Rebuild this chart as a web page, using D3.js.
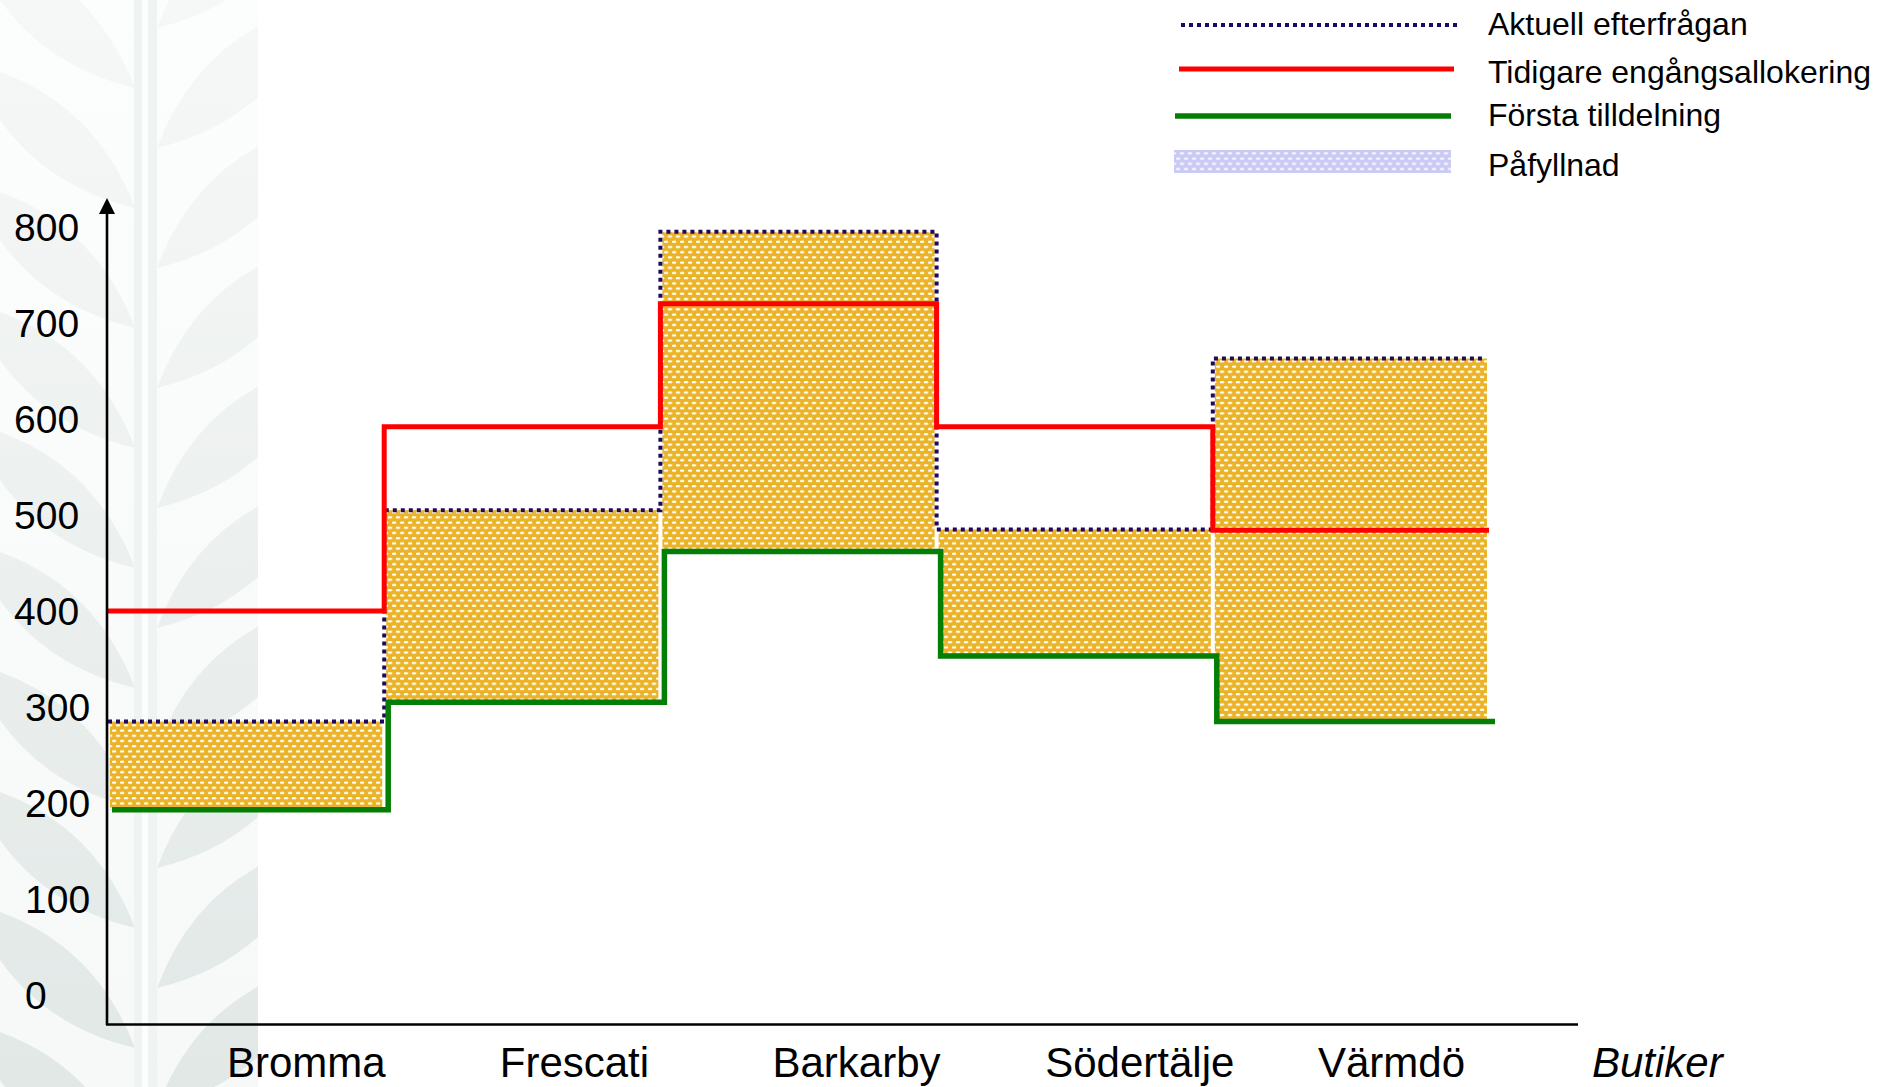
<!DOCTYPE html>
<html>
<head>
<meta charset="utf-8">
<script src="https://cdn.jsdelivr.net/npm/d3@7"></script>
<style>
  html, body { margin: 0; padding: 0; background: #fff; }
  svg { display: block; font-family: "Liberation Sans", Arial, sans-serif; }
</style>
</head>
<body>
<svg id="chart" width="1877" height="1087"></svg>
<script>
// Stores and values per store
const categories = ["Bromma", "Frescati", "Barkarby", "Södertälje", "Värmdö"];
const currentDemand = [285, 505, 795, 485, 663];      // Aktuell efterfrågan
const earlierAllocation = [400, 592, 720, 592, 484];  // Tidigare engångsallokering
const firstAllocation = [193, 305, 462, 353, 285];    // Första tilldelning
const yTickValues = [0, 100, 200, 300, 400, 500, 600, 700, 800];
const legendLabels = ["Aktuell efterfrågan", "Tidigare engångsallokering", "Första tilldelning", "Påfyllnad"];
const xAxisTitle = "Butiker";

const svg = d3.select("#chart");
const defs = svg.append("defs");

// ---------- scales ----------
const y = d3.scaleLinear().domain([0, 800]).range([995, 227]);
const x = d3.scaleBand().domain(categories).range([108, 1489]).padding(0);
const labelX = d3.scalePoint().domain(categories).range([227, 1318]);
const bw = x.bandwidth();

// ---------- patterns ----------
function dotPattern(id, base, dot) {
  const p = defs.append("pattern").attr("id", id)
    .attr("patternUnits", "userSpaceOnUse").attr("width", 8).attr("height", 10.4);
  p.append("rect").attr("width", 8).attr("height", 10.4).attr("fill", base);
  [[2, 2.6], [6, 7.8], [-2, 7.8], [10, 7.8]].forEach(([cx, cy]) => {
    p.append("ellipse").attr("cx", cx).attr("cy", cy).attr("rx", 2.4).attr("ry", 1.25)
      .attr("fill", dot);
  });
  return "url(#" + id + ")";
}
const goldFill = dotPattern("gold", "#ebb428", "#ffffff");
const lilacFill = dotPattern("lilac", "#cacaf4", "#f6f6ff");

// ---------- decorative leaf background ----------
const bg = svg.append("g");
defs.append("clipPath").attr("id", "bgclip")
  .append("rect").attr("x", 0).attr("y", 0).attr("width", 258).attr("height", 1087);
const fadeGrad = defs.append("linearGradient").attr("id", "fade")
  .attr("x1", 0).attr("y1", 0).attr("x2", 0).attr("y2", 1);
fadeGrad.append("stop").attr("offset", 0).attr("stop-color", "#fcfdfd");
fadeGrad.append("stop").attr("offset", 1).attr("stop-color", "#f7f9f8");
const leafGrad = defs.append("linearGradient").attr("id", "leafFade")
  .attr("gradientUnits", "userSpaceOnUse").attr("x1", 0).attr("y1", 0).attr("x2", 0).attr("y2", 1087);
leafGrad.append("stop").attr("offset", 0).attr("stop-color", "#f6f8f7");
leafGrad.append("stop").attr("offset", 0.45).attr("stop-color", "#edf1f0");
leafGrad.append("stop").attr("offset", 1).attr("stop-color", "#e1e8e6");

const bgG = bg.append("g").attr("clip-path", "url(#bgclip)");
bgG.append("rect").attr("x", 0).attr("y", 0).attr("width", 258).attr("height", 1087).attr("fill", "url(#fade)");

function leaf(bx, by, tx, ty, w) {
  const mx = (bx + tx) / 2, my = (by + ty) / 2;
  const dx = tx - bx, dy = ty - by, len = Math.hypot(dx, dy);
  const nx = -dy / len * w, ny = dx / len * w;
  return `M${bx},${by} Q${mx + nx},${my + ny} ${tx},${ty} Q${mx - nx},${my - ny} ${bx},${by} Z`;
}
d3.range(-2, 10).forEach(i => {
  const yr = 33 + i * 120;           // right-hand leaves
  bgG.append("path").attr("d", leaf(157, yr + 115, 320, yr - 30, 58)).attr("fill", "url(#leafFade)");
  const yl = 93 + i * 120;           // left-hand leaves
  bgG.append("path").attr("d", leaf(135, yl + 115, -30, yl - 30, 58)).attr("fill", "url(#leafFade)");
});
bgG.append("rect").attr("x", 134).attr("y", 0).attr("width", 23).attr("height", 1087).attr("fill", "#eff3f2");
bgG.append("rect").attr("x", 142).attr("y", 0).attr("width", 6).attr("height", 1087).attr("fill", "#fcfdfd");

// ---------- refill areas (between first allocation and current demand) ----------
svg.append("g").selectAll("rect").data(categories).join("rect")
  .attr("x", c => x(c) + 2)
  .attr("width", bw - 4)
  .attr("y", (c, i) => y(currentDemand[i]))
  .attr("height", (c, i) => y(firstAllocation[i]) - y(currentDemand[i]))
  .attr("fill", goldFill);

// ---------- step lines ----------
function stepPoints(values, offset, endOffset) {
  const pts = categories.map((c, i) => [x(c) + offset, y(values[i])]);
  pts.push([x.range()[1] + endOffset, y(values[values.length - 1])]);
  return pts;
}
const stepLine = d3.line().curve(d3.curveStepAfter);

svg.append("path")
  .attr("d", stepLine(stepPoints(currentDemand, 0, -5)))
  .attr("fill", "none").attr("stroke", "#1d0a5e").attr("stroke-width", 4)
  .attr("stroke-dasharray", "4,4");

svg.append("path")
  .attr("d", stepLine(stepPoints(earlierAllocation, 0, 0)))
  .attr("fill", "none").attr("stroke", "#ff0000").attr("stroke-width", 5)
  .attr("stroke-linejoin", "miter");

svg.append("path")
  .attr("d", stepLine(stepPoints(firstAllocation, 4, 6)))
  .attr("fill", "none").attr("stroke", "#047e04").attr("stroke-width", 5.5)
  .attr("stroke-linejoin", "miter");

// ---------- axes ----------
const axisG = svg.append("g");
axisG.append("line").attr("x1", 107).attr("x2", 107).attr("y1", 1025).attr("y2", 210)
  .attr("stroke", "#000").attr("stroke-width", 2.6);
axisG.append("path").attr("d", "M107,198 L99,214 L115,214 Z").attr("fill", "#000");
axisG.append("line").attr("x1", 106).attr("x2", 1578).attr("y1", 1024.5).attr("y2", 1024.5)
  .attr("stroke", "#000").attr("stroke-width", 2.6);

axisG.selectAll("text.ytick").data(yTickValues).join("text")
  .attr("class", "ytick")
  .attr("x", v => v >= 400 ? 14 : 25)
  .attr("y", v => y(v) + 14)
  .attr("font-size", 39).attr("fill", "#000")
  .text(v => v);

axisG.selectAll("text.xtick").data(categories).join("text")
  .attr("class", "xtick")
  .attr("x", c => labelX(c))
  .attr("y", 1077)
  .attr("font-size", 42).attr("fill", "#000")
  .text(c => c);

axisG.append("text").attr("x", 1592).attr("y", 1077)
  .attr("font-size", 42).attr("font-style", "italic").attr("fill", "#000")
  .text(xAxisTitle);

// ---------- legend ----------
const legend = svg.append("g");
const rowY = [25, 69, 116, 161];
const textY = [35, 83, 126, 176];
legend.append("line").attr("x1", 1181).attr("x2", 1457).attr("y1", rowY[0]).attr("y2", rowY[0])
  .attr("stroke", "#1d0a5e").attr("stroke-width", 4).attr("stroke-dasharray", "4,4");
legend.append("line").attr("x1", 1179).attr("x2", 1454).attr("y1", rowY[1]).attr("y2", rowY[1])
  .attr("stroke", "#ff0000").attr("stroke-width", 5);
legend.append("line").attr("x1", 1175).attr("x2", 1451).attr("y1", rowY[2]).attr("y2", rowY[2])
  .attr("stroke", "#047e04").attr("stroke-width", 5.5);
legend.append("rect").attr("x", 1174).attr("y", 150).attr("width", 277).attr("height", 23)
  .attr("fill", lilacFill);
legend.selectAll("text").data(legendLabels).join("text")
  .attr("x", 1488).attr("y", (d, i) => textY[i])
  .attr("font-size", 32).attr("fill", "#000")
  .text(d => d);
</script>
</body>
</html>
